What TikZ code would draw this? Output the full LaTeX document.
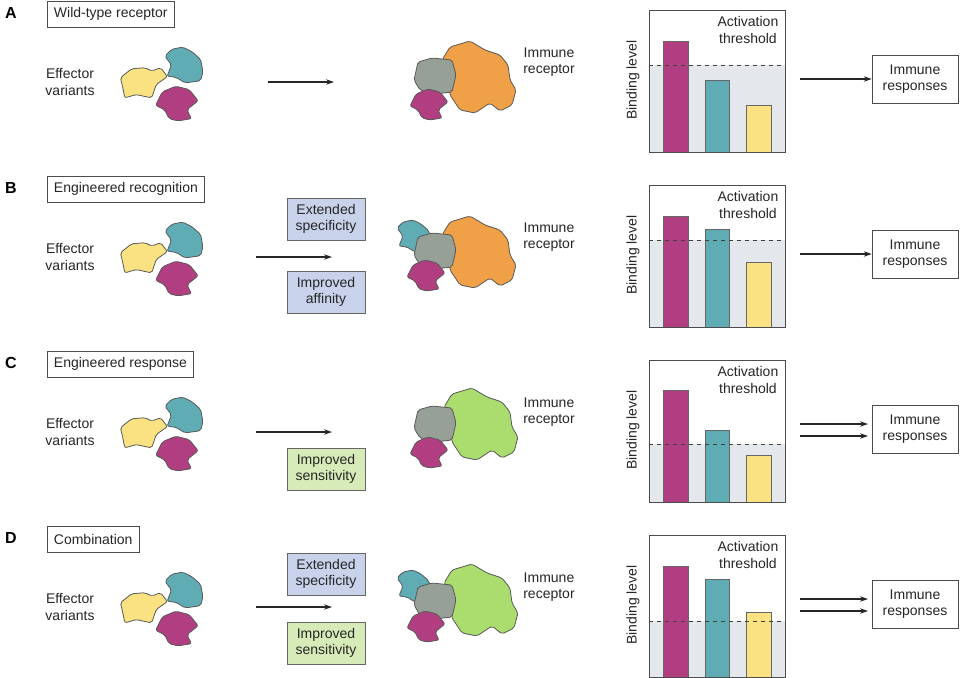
\documentclass[tikz,border=0pt]{standalone}
\usepackage{fontspec}
\setmainfont{Liberation Sans}
\usetikzlibrary{arrows.meta}
\definecolor{mag}{RGB}{178,62,130}
\definecolor{cya}{RGB}{95,172,180}
\definecolor{yel}{RGB}{250,226,130}
\definecolor{ora}{RGB}{240,160,70}
\definecolor{grn}{RGB}{170,220,110}
\definecolor{gry}{RGB}{150,160,150}
\definecolor{bluebox}{RGB}{200,210,235}
\definecolor{greenbox}{RGB}{215,235,185}
\definecolor{shadecol}{RGB}{228,231,235}
\tikzset{
 x=0.75pt,y=-0.75pt,
 txt/.style={font=\fontsize{10.5}{12.5}\selectfont,align=center,text=black!85},
 tbox/.style={txt,draw=black!70,fill=white,minimum height=26*0.75pt,inner xsep=5pt},
 mbox/.style={txt,draw=black!60,minimum width=78*0.75pt,minimum height=42*0.75pt,inner sep=1pt},
 letter/.style={font=\bfseries\fontsize{12}{14}\selectfont},
 arr/.style={-{Stealth[length=6pt,width=4pt]},black!85,thick},
 blob/.style={draw=black!65,line width=0.6pt,rounded corners=1.5pt},
 bar/.style={draw=black!60,line width=0.5pt},
}
\newcommand\yshape{(-22,-2) -- (-12,-10) -- (0,-11) -- (6,-8) -- (14,-11) -- (20,-3) -- (10,4) -- (6,16) -- (-8,13) -- (-18,16) -- (-20,6) -- cycle}
\newcommand\cshape{(-12,-14) -- (-2,-16) -- (6,-12) -- (14,-5) -- (16,6) -- (14,14) -- (0,16) -- (-8,11) -- (-16,10) -- (-12,0) -- (-18,-8) -- cycle}
\newcommand\mshape{(-20,2) -- (-14,-10) -- (-2,-15) -- (10,-12) -- (18,-2) -- (8,6) -- (12,14) -- (0,16) -- (-8,14) -- (-12,6) -- cycle}
\newcommand\bigshape{(-30,-38) -- (-10,-44) -- (5,-35) -- (20,-30) -- (28,-20) -- (30,-5) -- (36,5) -- (32,20) -- (20,26) -- (10,18) -- (-5,28) -- (-20,25) -- (-30,10) -- (-32,-10) -- (-38,-25) -- cycle}
\newcommand\gshape{(-22,-18) -- (-8,-22) -- (12,-20) -- (16,-5) -- (12,12) -- (-5,14) -- (-20,10) -- (-26,0) -- cycle}
\newcommand\myblob[4]{\filldraw[blob,fill=#1,shift={(#2,#3)}] #4;}
\newcommand\myblobs[4]{\filldraw[blob,fill=#1,shift={(#2,#3)},scale=1.12] #4;}
\newcommand\effectors[1]{
 \myblobs{yel}{145}{80+#1}{\yshape}
 \myblobs{cya}{185}{65+#1}{\cshape}
 \myblobs{mag}{178}{103+#1}{\mshape}
}
\newcommand\chart[6]{% id, yoff, mag top, cyan top, yel top, thr
 \fill[shadecol] (649,#2+#6) rectangle (785,#2+152);
 \draw[bar,fill=mag] (663,#2+#3) rectangle (688,#2+152);
 \draw[bar,fill=cya] (705,#2+#4) rectangle (729,#2+152);
 \draw[bar,fill=yel] (746,#2+#5) rectangle (771,#2+152);
 \draw[dashed,black!75] (649,#2+#6) -- (785,#2+#6);
 \node[draw=black!70,minimum width=136*0.75pt,minimum height=142*0.75pt,anchor=north west] (ch#1) at (649,#2+10) {};
 \node[txt,anchor=north east] (act#1) at (783,#2+12) {Activation\\threshold};
 \node[txt,rotate=90] (bl#1) at (633,#2+80) {Binding level};
 \node[tbox,minimum width=86*0.75pt,minimum height=48*0.75pt,inner xsep=1pt] (ir#1) at (915,#2+79) {Immune\\responses};
 \node[txt] (ev#1) at (70,#2+82) {Effector\\variants};
 \node[txt] (rec#1) at (549,#2+62) {Immune\\receptor};
}
\begin{document}
\begin{tikzpicture}
\useasboundingbox (0,0) rectangle (964,678);
\fill[white] (0,0) rectangle (964,678);
% Panel A
\node[letter] (la) at (11,13) {A};
\node[tbox,anchor=west] (ta) at (47,14) {Wild-type receptor};
\effectors{0}
\myblob{ora}{480}{85}{\bigshape}
\myblob{gry}{440}{80}{\gshape}
\myblob{mag}{430}{104}{\mshape}
\chart{a}{0}{41}{80}{105}{65}
\coordinate (a1) at (268,82); \coordinate (a2) at (334,82);
\draw[arr] (a1) -- (a2);
\coordinate (a3) at (800,79);
\draw[arr] (a3) -- (ira.west);
% Panel B
\node[letter] (lb) at (11,188) {B};
\node[tbox,anchor=west] (tb) at (47,189) {Engineered recognition};
\effectors{175}
\myblob{ora}{480}{260}{\bigshape}
\myblob{cya}{415}{236}{\cshape}
\myblob{gry}{440}{255}{\gshape}
\myblob{mag}{427}{275}{\mshape}
\chart{b}{175}{41}{54}{87}{65}
\node[mbox,fill=bluebox] (esb) at (326,219) {Extended\\specificity};
\node[mbox,fill=bluebox] (iab) at (326,292) {Improved\\affinity};
\coordinate (b1) at (256,257); \coordinate (b2) at (332,257);
\draw[arr] (b1) -- (b2);
\coordinate (b3) at (800,254);
\draw[arr] (b3) -- (irb.west);
% Panel C
\node[letter] (lc) at (11,363) {C};
\node[tbox,anchor=west] (tc) at (47,364) {Engineered response};
\effectors{350}
\myblob{grn}{482}{432}{\bigshape}
\myblob{gry}{440}{428}{\gshape}
\myblob{mag}{430}{452}{\mshape}
\chart{c}{350}{40}{80}{105}{94}
\node[mbox,fill=greenbox] (isc) at (326,469) {Improved\\sensitivity};
\coordinate (c1) at (256,432); \coordinate (c2) at (332,432);
\draw[arr] (c1) -- (c2);
\coordinate (c3) at (800,424); \coordinate (c4) at (800,436);
\coordinate (c5) at (868,424); \coordinate (c6) at (868,436);
\draw[arr] (c3) -- (c5); \draw[arr] (c4) -- (c6);
% Panel D
\node[letter] (ld) at (11,538) {D};
\node[tbox,anchor=west] (td) at (47,539) {Combination};
\effectors{525}
\myblob{grn}{482}{608}{\bigshape}
\myblob{cya}{415}{586}{\cshape}
\myblob{gry}{440}{605}{\gshape}
\myblob{mag}{427}{626}{\mshape}
\chart{d}{525}{41}{54}{87}{96}
\node[mbox,fill=bluebox] (esd) at (326,574) {Extended\\specificity};
\node[mbox,fill=greenbox] (isd) at (326,643) {Improved\\sensitivity};
\coordinate (d1) at (256,607); \coordinate (d2) at (332,607);
\draw[arr] (d1) -- (d2);
\coordinate (d3) at (800,599); \coordinate (d4) at (800,611);
\coordinate (d5) at (868,599); \coordinate (d6) at (868,611);
\draw[arr] (d3) -- (d5); \draw[arr] (d4) -- (d6);
\end{tikzpicture}
\end{document}
